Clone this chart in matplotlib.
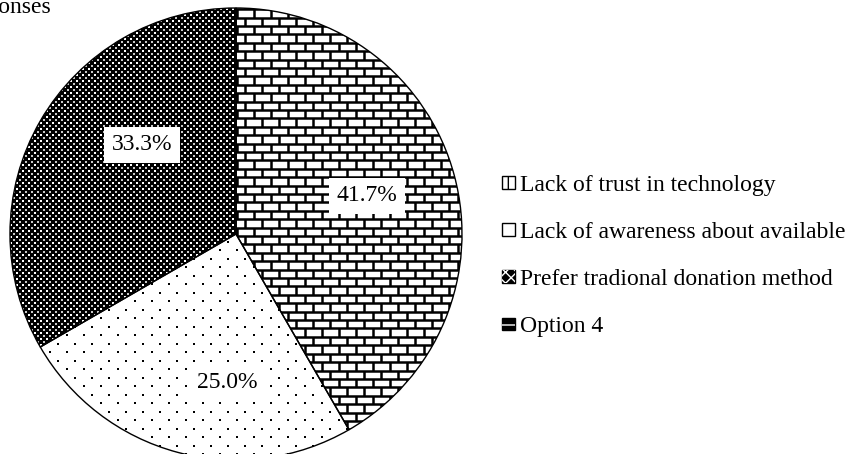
import numpy as np
import matplotlib
matplotlib.use("Agg")
import matplotlib.pyplot as plt
from matplotlib.patches import Patch
from matplotlib.collections import LineCollection
from matplotlib.legend_handler import HandlerTuple

# ── Data ──────────────────────────────────────────────────────────────────────

categories = ["Lack of trust in technology",
              "Lack of awareness about available",
              "Prefer tradional donation method",
              "Option 4"]
counts = [5, 3, 4, 0]
# label anchor points (data units, pie radius = 1), placed by hand in the source
label_pos = [(0.58, 0.17), (-0.04, -0.655), (-0.415, 0.395), None]
title = "Responses"

plt.rcParams["font.family"] = ["Liberation Serif", "DejaVu Serif"]
FS = 17

W, H = 852, 454
CX, CY, R = 236, 234, 226          # pie centre / radius in pixels

fig = plt.figure(figsize=(W / 100, H / 100), dpi=100)
ax = fig.add_axes([(CX - R) / W, (H - CY - R) / H, 2 * R / W, 2 * R / H])

# ── Fills ────────────────────────────────────────────────────────────────────

fills = ["white", "white", "black", "black"]
wedges, _ = ax.pie(counts, startangle=90, counterclock=False, radius=1,
                   colors=fills, wedgeprops=dict(linewidth=0, edgecolor="black"))
for w in wedges:
    w.set_clip_on(False)


def lattice(step_px, offset_px=0.0):
    g = (np.arange(-1.05 * R, 1.05 * R, step_px) + offset_px) / R
    xx, yy = np.meshgrid(g, g)
    return xx.ravel(), yy.ravel()


# brick texture (wedge 0)
bw, bh = 17 / R, 8.4 / R
segs = []
for i, y0 in enumerate(np.arange(-1.05, 1.05, bh)):
    segs.append([(-1.05, y0), (1.05, y0)])
    off = 0 if i % 2 == 0 else bw / 2
    for x0 in np.arange(-1.05 + off, 1.05, bw):
        segs.append([(x0, y0), (x0, y0 + bh)])
bricks = LineCollection(segs, colors="black", linewidths=1.8)
ax.add_collection(bricks)
bricks.set_clip_path(wedges[0])

# sparse dot texture (wedge 1): big dots on a 17 px grid, small ones between
for off, size in [(0.0, 2.6), (8.5, 0.7)]:
    xs, ys = lattice(17, off)
    sc = ax.scatter(xs, ys, s=size, marker="s", color="black", linewidths=0)
    sc.set_clip_path(wedges[1])

# dense light-dot texture on black (wedge 2)
for off, size, col in [(0.0, 4.0, "white"), (3.0, 2.4, "#c8c8c8")]:
    xs, ys = lattice(6, off)
    sc = ax.scatter(xs, ys, s=size, marker="s", color=col, linewidths=0)
    sc.set_clip_path(wedges[2])

# outlines
outl, _ = ax.pie(counts, startangle=90, counterclock=False, radius=1,
                 colors=["none"] * 4,
                 wedgeprops=dict(linewidth=1.0, edgecolor="black", fill=False))
for w in outl:
    w.set_clip_on(False)

ax.set_xlim(-1, 1)
ax.set_ylim(-1, 1)
ax.set_aspect("equal")
ax.axis("off")

total = sum(counts)
for c, pos in zip(counts, label_pos):
    if pos is None or c == 0:
        continue
    ax.text(pos[0], pos[1], f"{100 * c / total:.1f}%", ha="center", va="center",
            fontsize=FS, zorder=5,
            bbox=dict(boxstyle="square,pad=0.32", facecolor="white", edgecolor="none"))

fig.text(51 / W, 1 - 13 / H, title, ha="right", va="baseline", fontsize=FS)

# ── Legend ───────────────────────────────────────────────────────────────────

handles = [
    Patch(facecolor="white", edgecolor="black", hatch="+", linewidth=1),
    Patch(facecolor="white", edgecolor="black", linewidth=1),
    (Patch(facecolor="black", edgecolor="black", linewidth=1),
     Patch(facecolor="none", edgecolor="white", hatch="xxx", linewidth=0)),
    (Patch(facecolor="black", edgecolor="black", linewidth=1),
     Patch(facecolor="none", edgecolor="white", hatch="-", linewidth=0)),
]
fig.legend(handles, categories, loc="center left",
           bbox_to_anchor=(502 / W, 1 - 256 / H), frameon=False, fontsize=FS,
           handlelength=0.55, handleheight=0.45, handletextpad=0.2,
           labelspacing=1.11, borderaxespad=0, borderpad=0,
           handler_map={tuple: HandlerTuple(ndivide=1, pad=0)})

fig.savefig("out.png", dpi=100)
